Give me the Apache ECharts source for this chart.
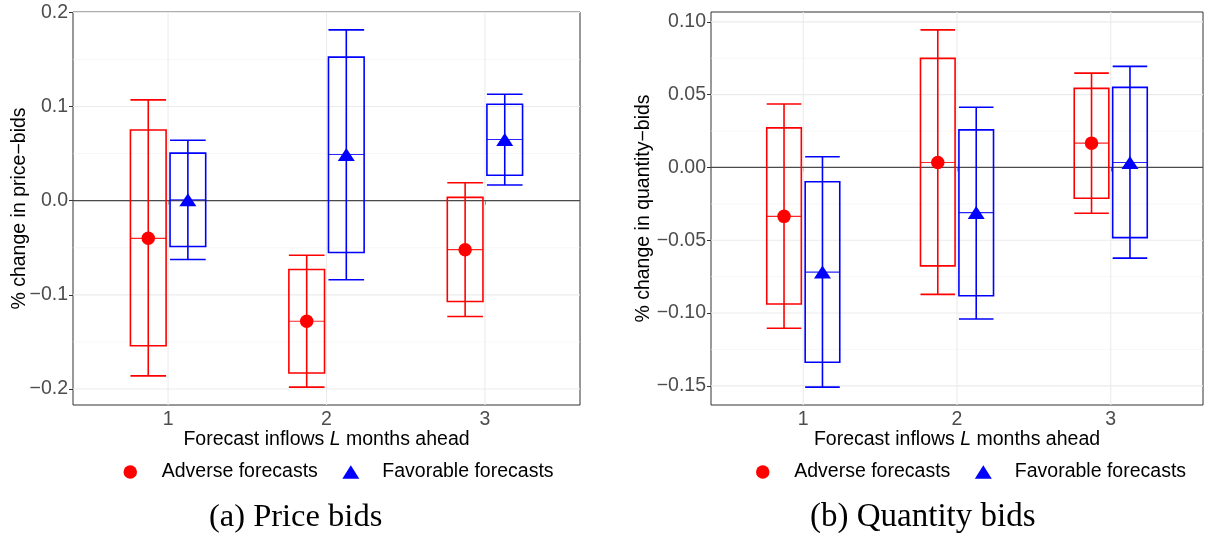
<!DOCTYPE html>
<html>
<head>
<meta charset="utf-8">
<script src="https://cdn.jsdelivr.net/npm/echarts@6/dist/echarts.min.js"></script>
<style>
html,body{margin:0;padding:0;background:#fff;}
#chart{width:1208px;height:533px;}
</style>
</head>
<body>
<div id="chart"></div>
<script>
// ---------------- DATA ----------------
const categories = [1, 2, 3];
const seriesNames = ['Adverse forecasts', 'Favorable forecasts'];
const xAxisTitle = ['Forecast inflows ', 'L', ' months ahead'];
const captions = ['(a) Price bids', '(b) Quantity bids'];
const yTitles = ['% change in price\u2212bids', '% change in quantity\u2212bids'];

// Panel (a): price bids  (outer interval low, box low, estimate, box high, outer interval high)
const priceAdverseLo95 = [-0.186, -0.198, -0.123];
const priceAdverseLo   = [-0.154, -0.183, -0.107];
const priceAdverseEst  = [-0.040, -0.128, -0.052];
const priceAdverseHi   = [0.075, -0.073, 0.0035];
const priceAdverseHi95 = [0.107, -0.058, 0.019];

const priceFavorLo95 = [-0.0625, -0.084, 0.0166];
const priceFavorLo   = [-0.0487, -0.055, 0.027];
const priceFavorEst  = [0.001, 0.049, 0.065];
const priceFavorHi   = [0.0505, 0.1525, 0.1024];
const priceFavorHi95 = [0.0642, 0.1814, 0.113];

// Panel (b): quantity bids
const qtyAdverseLo95 = [-0.1105, -0.0872, -0.0315];
const qtyAdverseLo   = [-0.0938, -0.0676, -0.0212];
const qtyAdverseEst  = [-0.0336, 0.0034, 0.0167];
const qtyAdverseHi   = [0.0272, 0.0749, 0.0543];
const qtyAdverseHi95 = [0.0436, 0.0945, 0.0648];

const qtyFavorLo95 = [-0.1509, -0.1041, -0.0623];
const qtyFavorLo   = [-0.1338, -0.0881, -0.0482];
const qtyFavorEst  = [-0.0719, -0.031, 0.0034];
const qtyFavorHi   = [-0.0098, 0.0258, 0.055];
const qtyFavorHi95 = [0.0073, 0.0413, 0.0694];

// Axis ticks
const priceTicks = [-0.2, -0.1, 0.0, 0.1, 0.2];
const priceMinor = [-0.15, -0.05, 0.05, 0.15];
const qtyTicks = [-0.15, -0.10, -0.05, 0.00, 0.05, 0.10];
const qtyMinor = [-0.125, -0.075, -0.025, 0.025, 0.075];
const referenceLine = 0;

// ---------------- LAYOUT / STYLE ----------------
const SANS = "'Liberation Sans', Arial, sans-serif";
const SERIF = "'Liberation Serif', 'Times New Roman', serif";
const RED = '#FF0000', BLUE = '#0000FF';
const DODGE = 0.125, BOX_HALF = 0.1125;
const X_MIN = 0.4, X_MAX = 3.6;
const FS = 19.5;

function rows(lo95, lo, est, hi, hi95) {
  return categories.map((c, i) => [c, lo95[i], lo[i], est[i], hi[i], hi95[i]]);
}
function yRange(arrs) {
  const all = [].concat(...arrs);
  const mn = Math.min(...all), mx = Math.max(...all);
  const pad = (mx - mn) * 0.05;
  return [mn - pad, mx + pad];
}
const priceRange = yRange([priceAdverseLo95, priceAdverseHi95, priceFavorLo95, priceFavorHi95]);
const qtyRange = yRange([qtyAdverseLo95, qtyAdverseHi95, qtyFavorLo95, qtyFavorHi95]);

function boxRenderer(offset, color) {
  return function (params, api) {
    const c = api.value(0) + offset;
    const left = api.coord([c - BOX_HALF, 0])[0];
    const right = api.coord([c + BOX_HALF, 0])[0];
    const mid = api.coord([c, 0])[0];
    const y = k => api.coord([c, api.value(k)])[1];
    const yLo95 = y(1), yLo = y(2), yMed = y(3), yHi = y(4), yHi95 = y(5);
    const st = { stroke: color, lineWidth: 1.6, fill: 'none' };
    return {
      type: 'group',
      children: [
        { type: 'line', shape: { x1: mid, y1: yHi95, x2: mid, y2: yLo95 }, style: st },
        { type: 'line', shape: { x1: left, y1: yHi95, x2: right, y2: yHi95 }, style: st },
        { type: 'line', shape: { x1: left, y1: yLo95, x2: right, y2: yLo95 }, style: st },
        { type: 'rect', shape: { x: left, y: yHi, width: right - left, height: yLo - yHi }, style: st },
        { type: 'line', shape: { x1: left, y1: yMed, x2: right, y2: yMed }, style: { stroke: color, lineWidth: 1.1, opacity: 0.85 } }
      ]
    };
  };
}
function hLineRenderer(color, width) {
  return function (params, api) {
    const cs = params.coordSys;
    const yy = api.coord([api.value(0), api.value(1)])[1];
    return { type: 'line', shape: { x1: cs.x, y1: yy, x2: cs.x + cs.width, y2: yy }, style: { stroke: color, lineWidth: width } };
  };
}
function vLineRenderer(color, width) {
  return function (params, api) {
    const cs = params.coordSys;
    const xx = api.coord([api.value(0), api.value(1)])[0];
    return { type: 'line', shape: { x1: xx, y1: cs.y, x2: xx, y2: cs.y + cs.height }, style: { stroke: color, lineWidth: width } };
  };
}
function fmt(dec) {
  return v => (Math.abs(v) < 1e-9 ? 0 : v).toFixed(dec).replace('-', '\u2212');
}

const grids = [
  { left: 73, top: 12, width: 507, height: 393 },
  { left: 711, top: 12, width: 492, height: 393 }
];

function xAxisFor(i) {
  return {
    type: 'value', gridIndex: i, min: X_MIN, max: X_MAX,
    axisLine: { show: false },
    splitLine: { show: false },
    axisTick: { show: true, customValues: categories, length: 4, lineStyle: { color: '#333', width: 1 } },
    axisLabel: { customValues: categories, margin: 5, color: '#4D4D4D', fontSize: FS, fontFamily: SANS, formatter: v => String(Math.round(v)) },
    name: '{n|' + xAxisTitle[0] + '}{i|' + xAxisTitle[1] + '}{n|' + xAxisTitle[2] + '}',
    nameLocation: 'middle', nameGap: 25, nameMoveOverlap: false,
    nameTextStyle: {
      rich: {
        n: { fontSize: FS, fontFamily: SANS, color: '#000' },
        i: { fontSize: FS, fontFamily: SANS, color: '#000', fontStyle: 'italic' }
      }
    }
  };
}
function yAxisFor(i, range, ticks, dec, gap) {
  return {
    type: 'value', gridIndex: i, min: range[0], max: range[1],
    axisLine: { show: false },
    splitLine: { show: false },
    axisTick: { show: true, customValues: ticks, length: 4, lineStyle: { color: '#333', width: 1 } },
    axisLabel: { customValues: ticks, margin: 5, color: '#4D4D4D', fontSize: FS, fontFamily: SANS, formatter: fmt(dec) },
    name: yTitles[i], nameLocation: 'middle', nameGap: gap, nameMoveOverlap: false,
    nameTextStyle: { fontSize: FS, fontFamily: SANS, color: '#000' }
  };
}

function panelSeries(i, ticks, minor, adv, fav) {
  const base = { xAxisIndex: i, yAxisIndex: i, silent: true, animation: false };
  return [
    Object.assign({ type: 'custom', name: 'minor' + i, z: 1, data: minor.map(v => [1, v]), renderItem: hLineRenderer('#F2F2F2', 0.6) }, base),
    Object.assign({ type: 'custom', name: 'major' + i, z: 1, data: ticks.map(v => [1, v]), renderItem: hLineRenderer('#EBEBEB', 1.1) }, base),
    Object.assign({ type: 'custom', name: 'vmajor' + i, z: 1, data: categories.map(c => [c, 0]), renderItem: vLineRenderer('#EBEBEB', 1.1) }, base),
    Object.assign({ type: 'custom', name: 'ref' + i, z: 2, data: [[1, referenceLine]], renderItem: hLineRenderer('#4a4a4a', 1.3) }, base),
    Object.assign({ type: 'custom', name: 'advBox' + i, z: 3, data: adv.rows, encode: { x: 0, y: [1, 2, 3, 4, 5] }, renderItem: boxRenderer(-DODGE, RED) }, base),
    Object.assign({ type: 'custom', name: 'favBox' + i, z: 3, data: fav.rows, encode: { x: 0, y: [1, 2, 3, 4, 5] }, renderItem: boxRenderer(DODGE, BLUE) }, base),
    Object.assign({ type: 'scatter', name: seriesNames[0], z: 4, symbol: 'circle', symbolSize: 13.5, itemStyle: { color: RED, opacity: 1 },
      data: categories.map((c, k) => [c - DODGE, adv.est[k]]) }, base),
    Object.assign({ type: 'scatter', name: seriesNames[1], z: 4, symbol: 'triangle', symbolSize: [17, 13], itemStyle: { color: BLUE, opacity: 1 },
      data: categories.map((c, k) => [c + DODGE, fav.est[k]]) }, base)
  ];
}

const series = [].concat(
  panelSeries(0, priceTicks, priceMinor,
    { rows: rows(priceAdverseLo95, priceAdverseLo, priceAdverseEst, priceAdverseHi, priceAdverseHi95), est: priceAdverseEst },
    { rows: rows(priceFavorLo95, priceFavorLo, priceFavorEst, priceFavorHi, priceFavorHi95), est: priceFavorEst }),
  panelSeries(1, qtyTicks, qtyMinor,
    { rows: rows(qtyAdverseLo95, qtyAdverseLo, qtyAdverseEst, qtyAdverseHi, qtyAdverseHi95), est: qtyAdverseEst },
    { rows: rows(qtyFavorLo95, qtyFavorLo, qtyFavorEst, qtyFavorHi, qtyFavorHi95), est: qtyFavorEst })
);

function legendAt(left) {
  return {
    left: left, top: 462, padding: 0, orient: 'horizontal',
    itemWidth: 17, itemHeight: 13.5, itemGap: 24.5, selectedMode: false,
    data: [{ name: seriesNames[0], icon: 'circle' }, { name: seriesNames[1], icon: 'triangle' }],
    textStyle: { fontSize: FS, fontFamily: SANS, color: '#000', padding: [0, 0, 0, 18] }
  };
}

const chart = echarts.init(document.getElementById('chart'), null, { renderer: 'canvas' });
chart.setOption({
  animation: false,
  backgroundColor: '#fff',
  grid: grids.map(g => Object.assign({ show: true, borderColor: '#333', borderWidth: 1, backgroundColor: '#fff', containLabel: false }, g)),
  xAxis: [xAxisFor(0), xAxisFor(1)],
  yAxis: [yAxisFor(0, priceRange, priceTicks, 1, 43), yAxisFor(1, qtyRange, qtyTicks, 2, 57)],
  legend: [legendAt(123.5), legendAt(756)],
  series: series,
  graphic: [
    { type: 'text', left: 209, top: 501, style: { text: captions[0], font: 'normal 32.5px ' + SERIF, fill: '#000' } },
    { type: 'text', left: 810, top: 501, style: { text: captions[1], font: 'normal 33px ' + SERIF, fill: '#000' } }
  ]
});
</script>
</body>
</html>
